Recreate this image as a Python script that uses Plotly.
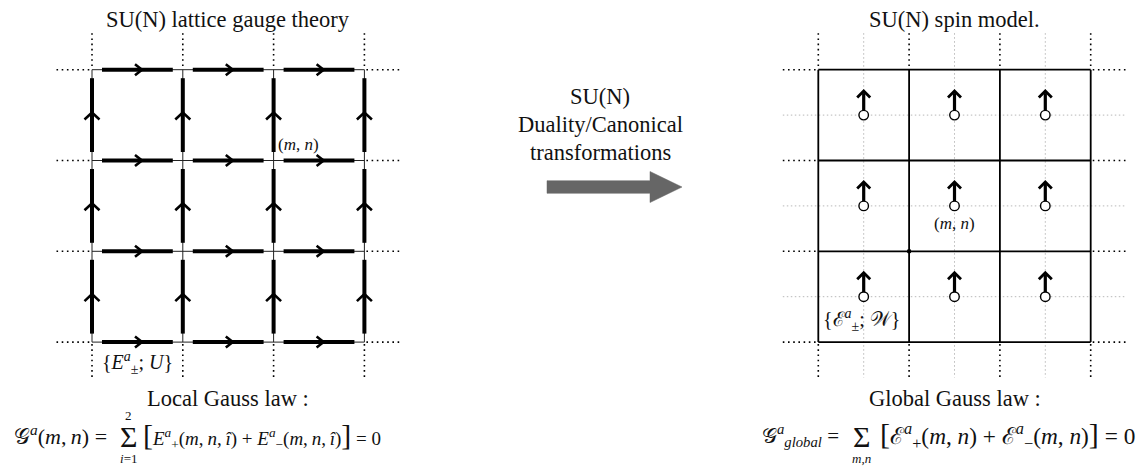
import plotly.graph_objects as go

# ---------------- data ----------------
sites = [0, 1, 2, 3]            # lattice site index (both directions)
cells = [0, 1, 2]               # plaquette index = dual (spin) sites
titles = ["SU(N) lattice gauge theory", "SU(N) spin model."]
middle_text = ["SU(N)", "Duality/Canonical", "transformations"]
law_titles = ["Local Gauss law :", "Global Gauss law :"]
site_label = "(<i>m</i>, <i>n</i>)"
left_set_label = "{<i>E</i><sup><i>a</i></sup><sub>±</sub>; <i>U</i>}"
right_set_label = "{ℰ<sup><i>a</i></sup><sub>±</sub>; 𝒲}"
marked_node = (1, 2)            # node marked with a dot on the dual lattice
left_site_label_node = (2, 1)   # (m, n) on the gauge lattice
right_site_label_cell = (1, 1)  # (m, n) on the spin lattice
set_label_cells = [(0, 2)]

# ---------------- geometry (pixels) ----------------
W, H = 1145, 466
PAD = 8                          # page body margin
A = 90.8
LX0, RX0, Y0 = 92.0, 818.3, 69.7
EXT = 35.5
FONT = "Liberation Serif, Times New Roman, DejaVu Serif, serif"
INK = "#111111"
TS = 22.5                        # main text size
TH = "\u2009"                    # thin space


def X(x0, i):
    return x0 + i * A


def Y(j):
    return Y0 + j * A


def add_seg(lx, ly, x1, y1, x2, y2):
    lx += [x1, x2, None]
    ly += [y1, y2, None]


n = len(sites) - 1

# left lattice: thin grid
gx, gy = [], []
for s in sites:
    add_seg(gx, gy, X(LX0, 0), Y(s), X(LX0, n), Y(s))
    add_seg(gx, gy, X(LX0, s), Y(0), X(LX0, s), Y(n))

# thick links and chevrons
tx, ty, cx_, cy_ = [], [], [], []
for j in sites:
    for i in cells:
        x1 = X(LX0, i)
        add_seg(tx, ty, x1 + 10, Y(j), x1 + A - 10, Y(j))
        tip = x1 + 50
        cx_ += [tip - 7, tip, tip - 7, None]
        cy_ += [Y(j) - 5.5, Y(j), Y(j) + 5.5, None]
for i in sites:
    for j in cells:
        y1, y2 = Y(j), Y(j + 1)
        add_seg(tx, ty, X(LX0, i), y1 + 8.5, X(LX0, i), y2 - 8.5)
        tip = y2 - 48
        cx_ += [X(LX0, i) - 7.5, X(LX0, i), X(LX0, i) + 7.5, None]
        cy_ += [tip + 7, tip, tip + 7, None]

# dotted extensions for both lattices
dx, dy = [], []
for x0 in (LX0, RX0):
    for s in sites:
        add_seg(dx, dy, X(x0, 0) - EXT, Y(s), X(x0, 0) - 2, Y(s))
        add_seg(dx, dy, X(x0, n) + 2, Y(s), X(x0, n) + EXT, Y(s))
        add_seg(dx, dy, X(x0, s), Y(0) - EXT - 1, X(x0, s), Y(0) - 2)
        add_seg(dx, dy, X(x0, s), Y(n) + 2, X(x0, s), Y(n) + EXT)

# right lattice: gray dotted dual lines
ddx, ddy = [], []
for c in cells:
    yc = Y(c + 0.5)
    xc = X(RX0, c + 0.5)
    add_seg(ddx, ddy, X(RX0, 0) - EXT, yc, X(RX0, n) + EXT, yc)
    add_seg(ddx, ddy, xc, Y(0) - EXT - 1, xc, Y(n) + EXT)

# right grid
rx, ry = [], []
for s in sites:
    add_seg(rx, ry, X(RX0, 0), Y(s), X(RX0, n), Y(s))
    add_seg(rx, ry, X(RX0, s), Y(0), X(RX0, s), Y(n))

# spins
sx, sy, hx, hy, px_, py_ = [], [], [], [], [], []
for ci in cells:
    for cj in cells:
        xc, yc = X(RX0, ci + 0.5), Y(cj + 0.5)
        add_seg(sx, sy, xc, yc - 4, xc, yc - 22)
        hx += [xc - 6.5, xc, xc + 6.5, None]
        hy += [yc - 17.5, yc - 24, yc - 17.5, None]
        px_.append(xc)
        py_.append(yc)

fig = go.Figure()
fig.add_trace(go.Scatter(x=ddx, y=ddy, mode="lines",
                         line=dict(color="#b8b8b8", width=1, dash="1.5px,2.5px"), hoverinfo="skip"))
fig.add_trace(go.Scatter(x=dx, y=dy, mode="lines",
                         line=dict(color="#000", width=1.6, dash="1.6px,3.6px"), hoverinfo="skip"))
fig.add_trace(go.Scatter(x=gx, y=gy, mode="lines",
                         line=dict(color="#222", width=1), hoverinfo="skip"))
fig.add_trace(go.Scatter(x=tx, y=ty, mode="lines",
                         line=dict(color="#000", width=4), hoverinfo="skip"))
fig.add_trace(go.Scatter(x=cx_, y=cy_, mode="lines",
                         line=dict(color="#000", width=2.6), hoverinfo="skip"))
fig.add_trace(go.Scatter(x=rx, y=ry, mode="lines",
                         line=dict(color="#000", width=1.8), hoverinfo="skip"))
fig.add_trace(go.Scatter(x=sx, y=sy, mode="lines",
                         line=dict(color="#000", width=3.2), hoverinfo="skip"))
fig.add_trace(go.Scatter(x=hx, y=hy, mode="lines",
                         line=dict(color="#000", width=2.8), hoverinfo="skip"))
fig.add_trace(go.Scatter(x=px_, y=py_, mode="markers",
                         marker=dict(size=9.5, color="white", line=dict(color="#000", width=1.4)),
                         hoverinfo="skip"))
fig.add_trace(go.Scatter(x=[X(RX0, marked_node[0])], y=[Y(marked_node[1])], mode="markers",
                         marker=dict(size=4.5, color="#000"), hoverinfo="skip"))

# big gray arrow
ax0, ax1, axh, ay, sh, hh = 547, 650, 682, 187, 6.3, 15.5
fig.add_trace(go.Scatter(
    x=[ax0, ax1, ax1, axh, ax1, ax1, ax0, ax0],
    y=[ay - sh, ay - sh, ay - hh, ay, ay + hh, ay + sh, ay + sh, ay - sh],
    mode="lines", fill="toself", fillcolor="#666666",
    line=dict(color="#666666", width=0.5), hoverinfo="skip"))


def txt(x, y, t, size=TS, xanchor="center"):
    fig.add_annotation(x=x, y=y, xref="x", yref="y", text=t, showarrow=False,
                       xanchor=xanchor, yanchor="middle",
                       font=dict(family=FONT, size=size, color=INK))


mid_left = (X(LX0, 0) + X(LX0, n)) / 2
mid_right = (X(RX0, 0) + X(RX0, n)) / 2
txt(mid_left, 19, titles[0])
txt(mid_right, 19, titles[1])
for k, t in enumerate(middle_text):
    txt(600, [96, 124, 152][k], t)

txt(X(LX0, left_site_label_node[0]) + 25, Y(left_site_label_node[1]) - 16, site_label, size=17)
txt(X(RX0, right_site_label_cell[0] + 0.5), Y(right_site_label_cell[1] + 0.5) + 18, site_label, size=17)
txt(X(LX0, 0.5), Y(n) + 21, left_set_label, size=20)
for (ci, cj) in set_label_cells:
    txt(X(RX0, ci + 0.5) - 2, Y(cj + 0.5) + 23, right_set_label, size=20)

txt(mid_left, 398, law_titles[0])
txt(mid_right, 398, law_titles[1])

# local Gauss law formula
big = '<span style="font-size:30px">%s</span>'
txt(109, 435, "𝒢<sup><i>a</i></sup>(<i>m</i>," + TH + "<i>n</i>) =", size=22, xanchor="right")
txt(128.5, 436, "Σ", size=30)
txt(128.5, 415, "2", size=13)
txt(128.5, 458, "<i>i</i>=1", size=13)
txt(141, 435, big % "[" + "<i>E</i><sup><i>a</i></sup><sub>+</sub>(<i>m</i>," + TH + "<i>n</i>," + TH
    + "<i>î</i>) + <i>E</i><sup><i>a</i></sup><sub>−</sub>(<i>m</i>," + TH + "<i>n</i>," + TH
    + "<i>î</i>)" + big % "]" + " = 0",
    size=19, xanchor="left")

# global Gauss law formula
txt(841, 435, "𝒢<sup><i>a</i></sup><sub><i>global</i></sub> =", size=21, xanchor="right")
txt(861, 436, "Σ", size=30)
txt(861, 458, "<i>m</i>,<i>n</i>", size=13)
txt(878, 435, big % "[" + "ℰ<sup><i>a</i></sup><sub>+</sub>(<i>m</i>, <i>n</i>) + "
    "ℰ<sup><i>a</i></sup><sub>−</sub>(<i>m</i>, <i>n</i>)" + big % "]" + " = 0",
    size=23.3, xanchor="left")

fig.update_layout(
    width=W - PAD, height=H - PAD, margin=dict(l=0, r=0, t=0, b=0),
    paper_bgcolor="white", plot_bgcolor="white", showlegend=False,
    font=dict(family=FONT),
    xaxis=dict(range=[PAD, W], visible=False, fixedrange=True),
    yaxis=dict(range=[H, PAD], visible=False, fixedrange=True),
)
fig.write_html("out.html")
